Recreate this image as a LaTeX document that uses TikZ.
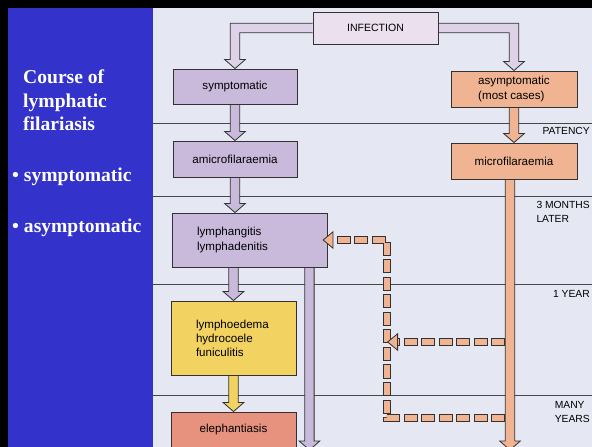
\documentclass[tikz,border=0pt]{standalone}
\usepackage{fontspec}
\setmainfont{Liberation Serif}
\setsansfont{Liberation Sans}
\usetikzlibrary{calc,arrows.meta,backgrounds}

\definecolor{panelblue}{RGB}{51,51,204}
\definecolor{paper}{RGB}{229,232,242}
\definecolor{infcol}{RGB}{234,224,238}
\definecolor{lav}{RGB}{201,186,220}
\definecolor{lavlight}{RGB}{222,210,232}
\definecolor{sal}{RGB}{240,180,146}
\definecolor{yel}{RGB}{242,210,96}
\definecolor{elred}{RGB}{230,146,126}
\definecolor{edge}{RGB}{50,50,50}
\definecolor{rule}{RGB}{70,70,70}

\tikzset{
  box/.style={draw=edge, line width=0.8pt, inner sep=0pt, align=center,
    font=\sffamily\fontsize{9.9}{12}\selectfont},
  stage/.style={anchor=north east, align=left, inner sep=0pt,
    font=\sffamily\fontsize{8.8}{12}\selectfont},
  paneltext/.style={anchor=west, align=left, inner sep=0pt, text=white,
    font=\bfseries\fontsize{16.7}{20}\selectfont},
  timeline/.style={draw=rule, line width=0.8pt},
  blockedge/.style={draw=edge, line width=0.7pt, line join=miter},
  dashout/.style={draw=edge, line width=2.55mm, dash pattern=on 4.2mm off 1.05mm,
    -{Triangle[length=3.3mm,width=5.4mm,fill=sal,line width=0.7pt]}},
  dashin/.style={draw=sal, line width=1.95mm, dash pattern=on 3.6mm off 1.65mm,
    dash phase=4.95mm, shorten >=3.3mm}
}

\begin{document}
\begin{tikzpicture}[x=0.3mm, y=-0.3mm]

% Sizes of the block arrows
\def\sw{1.4mm}
\def\hw{3.1mm}
\def\hl{2.7mm}

% Bent block arrow: colour, from, to, side (1 left, -1 right)
\def\elbowarrow#1#2#3#4{%
  \filldraw[blockedge, fill=#1] let \p1=(#2), \p2=(#3) in
    (\x1,{\y1+\sw}) -- ({\x2-(#4)*\sw},{\y1+\sw}) -- ({\x2-(#4)*\sw},{\y2+\hl})
    -- ({\x2-(#4)*\hw},{\y2+\hl}) -- (\x2,\y2) -- ({\x2+(#4)*\hw},{\y2+\hl})
    -- ({\x2+(#4)*\sw},{\y2+\hl}) -- ({\x2+(#4)*\sw},{\y1-\sw}) -- (\x1,{\y1-\sw});}

% Straight block arrow down: colour, from, to
\def\blockarrow#1#2#3{%
  \filldraw[blockedge, fill=#1] let \p1=(#2), \p2=(#3) in
    ({\x1-\sw},\y1) -- ({\x1-\sw},{\y2+\hl}) -- ({\x1-\hw},{\y2+\hl}) -- (\x1,\y2)
    -- ({\x1+\hw},{\y2+\hl}) -- ({\x1+\sw},{\y2+\hl}) -- ({\x1+\sw},\y1);}

\useasboundingbox (0,0) rectangle (592,447);

% Left panel text
\node[paneltext] (title) at (23,100.5) {Course of\\lymphatic\\filariasis};
\node[paneltext] (bsym) at (12,177) {\textbullet\ symptomatic};
\node[paneltext] (basym) at (12,228) {\textbullet\ asymptomatic};

% Boxes of the course
\node[box, fill=infcol, minimum width=37.5mm, minimum height=9.6mm,
  font=\sffamily\fontsize{9}{11}\selectfont] (inf) at (375.5,28) {INFECTION};
\node[box, fill=lav, minimum width=37.2mm, minimum height=10.5mm] (sym) at (235,86.5) {symptomatic};
\node[box, fill=sal, minimum width=37.8mm, minimum height=10.8mm, align=left] (asym) at (514,89) {asymptomatic\\(most cases)};
\node[box, fill=lav, minimum width=37.2mm, minimum height=10.8mm] (amic) at (235,159) {amicrofilaraemia};
\node[box, fill=sal, minimum width=37.8mm, minimum height=10.8mm] (mic) at (514,161) {microfilaraemia};
\node[box, fill=lav, text width=31.5mm, inner xsep=7.5mm, minimum height=16.2mm, align=left] (lymg) at (249.5,240) {lymphangitis\\lymphadenitis};
\node[box, fill=yel, text width=22.5mm, inner xsep=7.5mm, minimum height=22.2mm, align=left] (lymo) at (233.5,338) {lymphoedema\\hydrocoele\\funiculitis};
\node[box, fill=elred, minimum width=37.5mm, minimum height=10.8mm] (eleph) at (233.5,430) {elephantiasis};

% Time marks on the right
\node[stage] (patency) at (590,127) {PATENCY};
\node[stage] (months) at (590,201) {3 MONTHS\\LATER};
\node[stage] (year) at (590,290) {1 YEAR};
\node[stage] (years) at (590,401) {MANY\\YEARS};

% Free ends of the long arrows and the dashed links
\coordinate (lavend) at (309,450);
\coordinate (salend) at (510,450);
\coordinate (tapA) at (505,342);
\coordinate (tapB) at (505,418);
\coordinate (col) at (387,240);

\begin{scope}[on background layer]
  % Frame and panels
  \fill[black] (0,0) rectangle (592,447);
  \fill[panelblue] (8,8) rectangle (153,447);
  \fill[paper] (153,8) rectangle (592,447);

  % Time lines
  \foreach \ty in {123,196,284,395}
    \draw[timeline] (153,\ty) -- (592,\ty);

  % Block arrows
  \elbowarrow{lavlight}{inf.west}{sym.north}{1}
  \elbowarrow{lavlight}{inf.east}{asym.north}{-1}
  \blockarrow{lav}{sym.south}{amic.north}
  \blockarrow{sal}{asym.south}{mic.north}
  \blockarrow{lav}{amic.south}{lymg.north}
  \blockarrow{lav}{lymg.south -| lymo.north}{lymo.north}
  \blockarrow{yel}{lymo.south}{eleph.north}
  \blockarrow{lav}{$(lymg.south east)+(-18,0)$}{lavend}
  \blockarrow{sal}{$(mic.south)+(-4,0)$}{salend}
\end{scope}

% Dashed links back from the microfilaraemia line
\draw[dashout] (tapB) -| (col) -- ($(lymg.east)+(-5,0)$);
\draw[dashin] (tapB) -| (col) -- ($(lymg.east)+(-5,0)$);
\draw[dashout] (tapA) -- (tapA -| col);
\draw[dashin] (tapA) -- (tapA -| col);

\end{tikzpicture}
\end{document}
